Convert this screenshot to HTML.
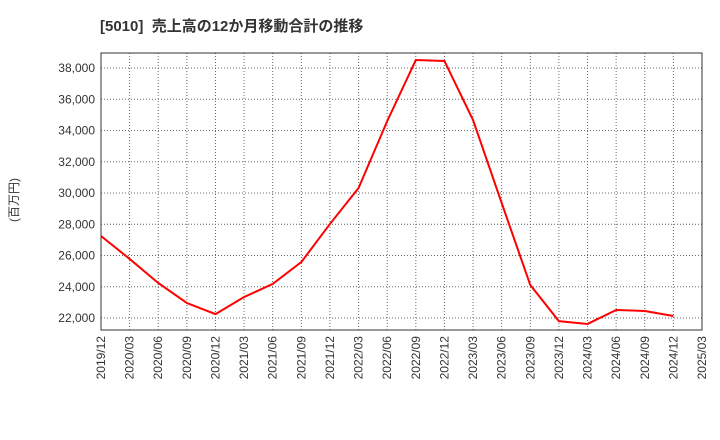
<!DOCTYPE html>
<html><head><meta charset="utf-8"><style>
body{margin:0;background:#fff;}
svg{display:block;font-family:"Liberation Sans","Noto Sans CJK JP",sans-serif;}
</style></head><body>
<svg id="c" width="720" height="440">
<text x="100" y="31" font-size="15" font-weight="bold" fill="#333">[5010]&#160;&#160;売上高の12か月移動合計の推移</text>
<text transform="translate(18,200) rotate(-90)" font-size="12" fill="#333" text-anchor="middle">(百万円)</text>
</svg>
<script>
const categories=["2019/12","2020/03","2020/06","2020/09","2020/12","2021/03","2021/06","2021/09","2021/12","2022/03","2022/06","2022/09","2022/12","2023/03","2023/06","2023/09","2023/12","2024/03","2024/06","2024/09","2024/12","2025/03"];
const salesValues=[27250,25780,24240,22960,22250,23340,24180,25580,28020,30320,34600,38510,38450,34670,29360,24110,21800,21620,22510,22450,22130];
const yTicks=[22000,24000,26000,28000,30000,32000,34000,36000,38000];
const L=101,R=702,T=53,B=330;
const xs=i=>L+i*(R-L)/(categories.length-1);
const ys=v=>318-(v-22000)*250/16000;
const svg=document.getElementById('c');
const NS="http://www.w3.org/2000/svg";
function mk(t,a){const e=document.createElementNS(NS,t);for(const k in a)e.setAttribute(k,a[k]);svg.appendChild(e);return e;}
const bg=mk('rect',{x:L,y:T,width:R-L,height:B-T,fill:'#fff'});


yTicks.forEach(v=>{
 const g=mk('line',{x1:L,x2:R,y1:ys(v),y2:ys(v),stroke:'#666','stroke-dasharray':'1,2','stroke-width':1});
 
 
 const t=mk('text',{x:L-6,y:ys(v)+4,'text-anchor':'end','font-size':12,fill:'#333'});
 t.textContent=v.toLocaleString('en-US');
 
 
});
categories.forEach((c,i)=>{
 const g=mk('line',{x1:xs(i),x2:xs(i),y1:T,y2:B,stroke:'#666','stroke-dasharray':'1,2','stroke-width':1});
 
 
 const t=mk('text',{transform:`translate(${xs(i)+4},${B+6}) rotate(-90)`,'text-anchor':'end','font-size':12,fill:'#333'});
 t.textContent=c;
 
 
});
const fr=mk('rect',{x:L,y:T,width:R-L,height:B-T,fill:'none',stroke:'#333','stroke-width':1});


const pl=mk('polyline',{points:salesValues.map((v,i)=>xs(i)+','+ys(v)).join(' '),fill:'none',stroke:'#f00','stroke-width':2});


</script>
</body></html>
